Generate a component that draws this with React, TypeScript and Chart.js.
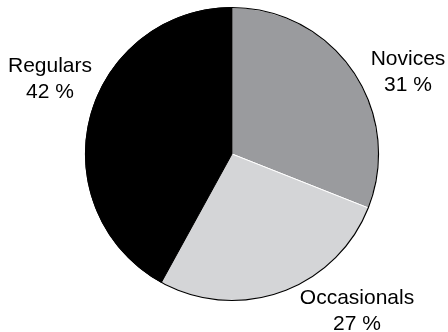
import React, { useEffect, useRef } from "react";
import { Chart, registerables } from "chart.js";

Chart.register(...registerables);

const categories = ["Novices", "Occasionals", "Regulars"];
const shares = [31, 27, 42];
const valueLabels = ["31 %", "27 %", "42 %"];
const sliceColors = ["#9a9b9e", "#d4d5d7", "#000000"];
const sliceBorders = ["#ffffff", "#ffffff", "#000000"];

// label anchor offsets relative to pie centre (presentation only)
const labelOffsets: [number, number][] = [
  [176, -89],
  [125, 150],
  [-182, -82],
];

const outlinePlugin = {
  id: "outlineAndLabels",
  afterDatasetsDraw(chart: any) {
    const meta = chart.getDatasetMeta(0);
    const arc = meta.data[0];
    if (!arc) return;
    const { x, y, outerRadius } = arc.getProps(["x", "y", "outerRadius"], true);
    const ctx = chart.ctx;
    ctx.save();
    ctx.beginPath();
    ctx.arc(x, y, outerRadius, 0, Math.PI * 2);
    ctx.strokeStyle = "#000";
    ctx.lineWidth = 1.2;
    ctx.stroke();
    ctx.fillStyle = "#000";
    ctx.font = '21px "Liberation Sans", Arial, sans-serif';
    ctx.textAlign = "center";
    ctx.textBaseline = "alphabetic";
    const labels = chart.data.labels as string[];
    labels.forEach((name, i) => {
      const [dx, dy] = labelOffsets[i];
      ctx.fillText(name, x + dx, y + dy);
      ctx.fillText(valueLabels[i], x + dx, y + dy + 26);
    });
    ctx.restore();
  },
};

export default function App() {
  const ref = useRef<HTMLCanvasElement>(null);
  useEffect(() => {
    if (!ref.current) return;
    const chart = new Chart(ref.current, {
      type: "pie",
      data: {
        labels: categories,
        datasets: [
          {
            data: shares,
            backgroundColor: sliceColors,
            borderColor: sliceBorders,
            borderWidth: 1,
          },
        ],
      },
      options: {
        animation: false,
        responsive: false,
        layout: { padding: { left: 85, right: 69, top: 7, bottom: 31 } },
        plugins: {
          legend: { display: false },
          tooltip: { enabled: false },
        },
      },
      plugins: [outlinePlugin],
    });
    return () => chart.destroy();
  }, []);
  return (
    <div style={{ position: "fixed", left: 0, top: 0, width: 448, height: 332, background: "#fff" }}>
      <canvas ref={ref} width={448} height={332} style={{ width: 448, height: 332 }} />
    </div>
  );
}
